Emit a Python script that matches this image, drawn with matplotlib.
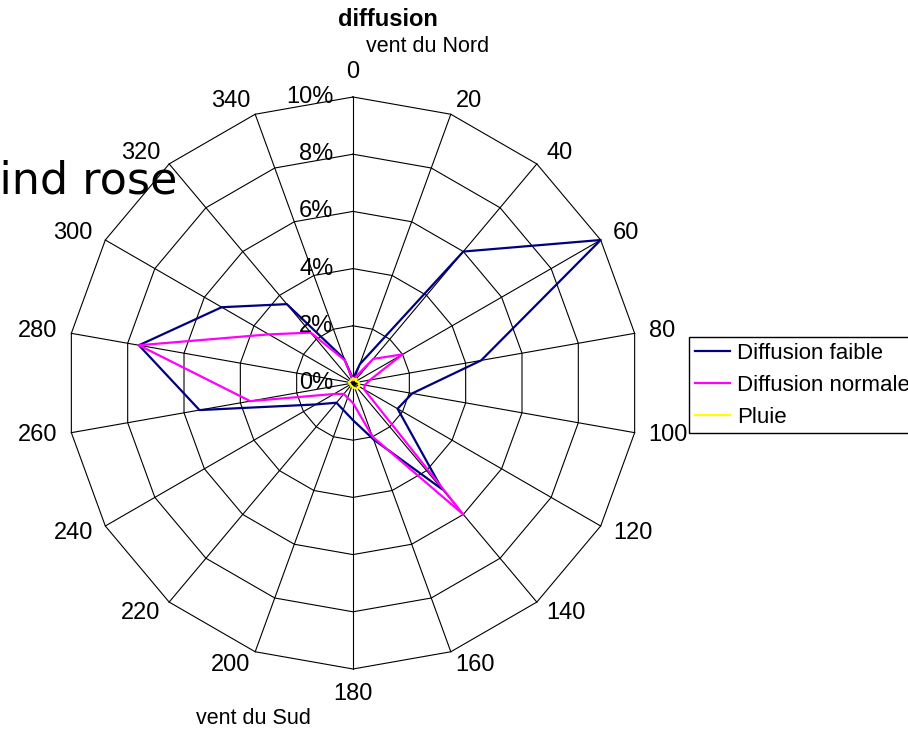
import numpy as np
import matplotlib.pyplot as plt
import matplotlib.transforms as mtransforms

plt.rcParams['font.family'] = ['Liberation Sans', 'DejaVu Sans']

# wind directions (degrees) and frequencies (%)
directions = [0, 20, 40, 60, 80, 100, 120, 140, 160, 180, 200, 220, 240, 260, 280, 300, 320, 340]
faible = [0.15, 0.7, 6.0, 10.0, 4.55, 2.1, 1.8, 4.85, 2.1, 1.3, 1.0, 0.9, 1.5, 5.45, 7.6, 5.3, 3.6, 0.9]
normale = [0.1, 0.2, 1.1, 2.0, 0.6, 0.42, 0.45, 6.0, 2.0, 0.7, 0.55, 0.5, 0.77, 3.65, 7.6, 3.4, 2.3, 0.85]
pluie = [0.15, 0.12, 0.18, 0.12, 0.2, 0.22, 0.25, 0.25, 0.2, 0.15, 0.12, 0.12, 0.1, 0.12, 0.15, 0.12, 0.12, 0.12]
pct_ticks = [0, 2, 4, 6, 8, 10]

fig = plt.figure(figsize=(9.08, 7.31), dpi=100)
ax = fig.add_axes([67 / 908, 62 / 731, 572 / 908, 572 / 731], projection='polar')
ax.set_theta_zero_location('N')
ax.set_theta_direction(-1)
ax.set_ylim(0, 10)
ax.grid(False)
ax.spines['polar'].set_visible(False)
ax.set_xticks([])
ax.set_yticks([])

theta = np.deg2rad(directions)
closed = np.append(theta, theta[0])

########## polygon grid + spokes ##########
for v in pct_ticks[1:]:
    ax.plot(closed, [v] * len(closed), color='black', lw=0.8, clip_on=False)
for t in theta:
    ax.plot([t, t], [0, 10], color='black', lw=0.8, clip_on=False)

########## series ##########
series = [(faible, '#000080', 'Diffusion faible'),
          (normale, '#FF00FF', 'Diffusion normale'),
          (pluie, '#FFFF00', 'Pluie')]
for vals, col, lab in series:
    ax.plot(closed, np.append(vals, vals[0]), color=col, lw=1.6, label=lab, clip_on=False)

########## labels ##########
for d, t in zip(directions, theta):
    s, c = np.sin(t), np.cos(t)
    if abs(s) > 0.2:
        ha = 'left' if s > 0 else 'right'
        va = 'center'
    else:
        ha = 'center'
        va = 'bottom' if c > 0 else 'top'
    ax.text(t, 10.5, str(d), ha=ha, va=va, fontsize=17, clip_on=False)

pct_tr = mtransforms.offset_copy(ax.transData, fig=fig, x=-14, y=0, units='points')
for v in pct_ticks:
    ax.text(0, v, str(v) + '%', ha='right', va='center', fontsize=17, transform=pct_tr)

fig.text(388 / 908, 1 - 19 / 731, 'diffusion', ha='center', va='center', fontsize=17, fontweight='bold')
fig.text(428 / 908, 1 - 46 / 731, 'vent du Nord', ha='center', va='center', fontsize=15.5)
fig.text(253 / 908, 1 - 718 / 731, 'vent du Sud', ha='center', va='center', fontsize=15.5)
fig.text(177 / 908, 1 - 193 / 731, 'wind rose', ha='right', va='baseline', fontsize=32,
         family=['DejaVu Sans'])

fig.legend(loc='upper left', bbox_to_anchor=(689 / 908, 1 - 337 / 731), fontsize=16,
           frameon=True, fancybox=False, edgecolor='black', framealpha=1,
           handlelength=1.6, handletextpad=0.3, labelspacing=0.5, borderpad=0.25,
           borderaxespad=0)

fig.savefig('out.png', dpi=100)
